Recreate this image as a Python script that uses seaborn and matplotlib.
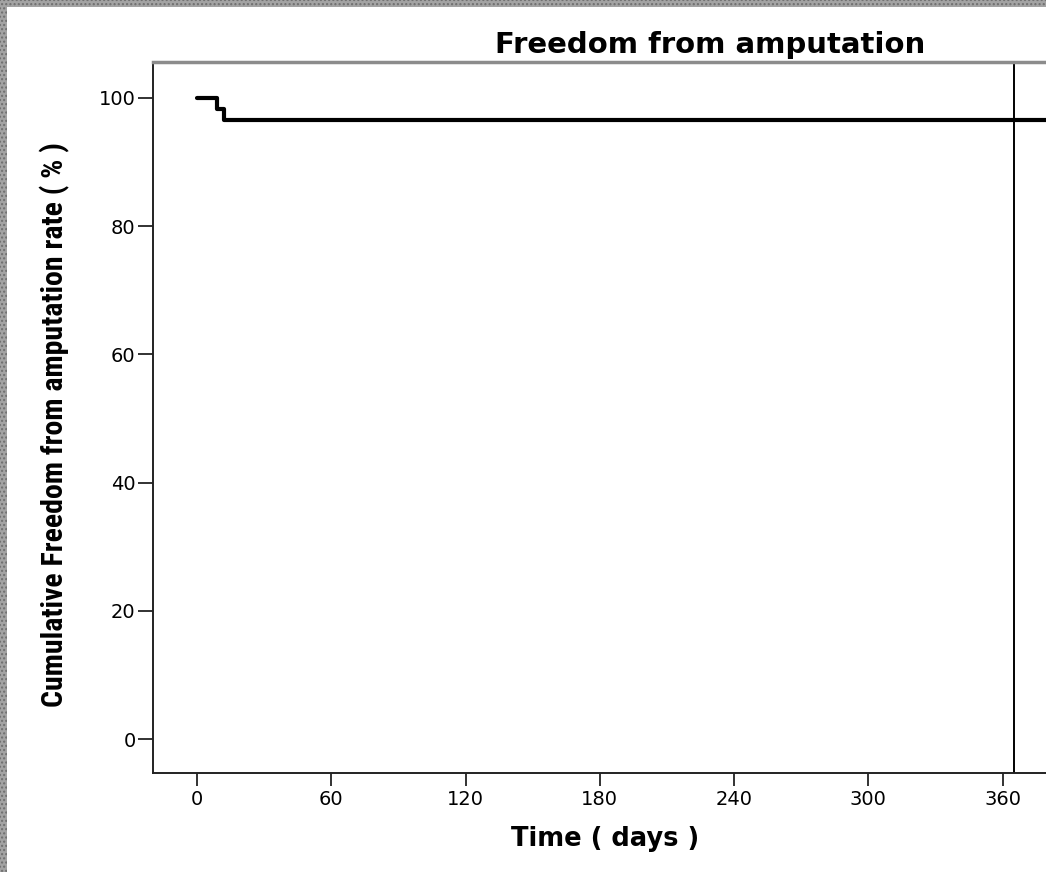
import matplotlib
matplotlib.use('Agg')
import numpy as np
import pandas as pd
import seaborn as sns
import matplotlib.pyplot as plt
from matplotlib import font_manager
from matplotlib.patches import Rectangle

# Kaplan-Meier step values
days = [0, 9, 12, 400]
freedom = [100, 98.3, 96.6, 96.6]
x_ticks = [0, 60, 120, 180, 240, 300, 360]
y_ticks = [0, 20, 40, 60, 80, 100]
cutoff_day = 365

df = pd.DataFrame({'days': days, 'freedom': freedom})

sns.set_style('ticks')
plt.rcParams['font.family'] = ['DejaVu Sans']
plt.rcParams['text.color'] = 'black'
plt.rcParams['axes.labelcolor'] = 'black'
plt.rcParams['xtick.color'] = 'black'
plt.rcParams['ytick.color'] = 'black'

# pick a narrow font for the y label if one is installed
installed = {f.name for f in font_manager.fontManager.ttflist}
narrow = 'DejaVu Sans'
for name in ['Liberation Sans Narrow', 'DejaVu Sans Condensed', 'Roboto Condensed']:
    if name in installed:
        narrow = name
        break

W, H = 1046, 872
fig = plt.figure(figsize=(W / 100, H / 100), dpi=100)
ax = fig.add_axes([153 / W, 1 - 773 / H, 1 - 153 / W, (773 - 62) / H])

sns.lineplot(data=df, x='days', y='freedom', ax=ax, color='black',
             linewidth=3, drawstyle='steps-post', estimator=None)
ax.axvline(cutoff_day, color='black', linewidth=1.4)

ax.set_xlim(-19.7, 379.4)
ax.set_ylim(-5.3, 105.6)
ax.set_xticks(x_ticks)
ax.set_yticks(y_ticks)
ax.tick_params(axis='both', direction='out', width=1.3,
               color='#222222', labelsize=14)
ax.tick_params(axis='x', length=9, pad=3)
ax.tick_params(axis='y', length=11, pad=1.5)

for side in ['left', 'bottom']:
    ax.spines[side].set_linewidth(1.4)
    ax.spines[side].set_color('#222222')
ax.spines['top'].set_linewidth(2.5)
ax.spines['top'].set_color('#8c8c8c')
ax.spines['right'].set_visible(False)

# the original chart was cropped on the right, so the title sits right of the axes centre
fig.text(710 / W, 1 - 53 / H, 'Freedom from amputation', fontsize=21,
         fontweight='bold', ha='center', va='baseline')

ax.set_xlabel('Time ( days )', fontsize=18.5, fontweight='bold')
ax.xaxis.set_label_coords((605 - 153) / 893, (773 - 826) / 711)
ax.set_ylabel('Cumulative Freedom from amputation rate ( % )', fontsize=21.5,
              fontweight='bold', family=narrow)
ax.yaxis.set_label_coords((70 - 153) / 893, 0.49)

# patterned grey frame on the left and top edges
fig.patches.append(Rectangle((0, 0), 7 / W, 1, transform=fig.transFigure,
                             facecolor='#a3a3a3', edgecolor='#6e6e6e',
                             hatch='....', linewidth=0, zorder=10))
fig.patches.append(Rectangle((0, 1 - 7 / H), 1, 7 / H, transform=fig.transFigure,
                             facecolor='#a3a3a3', edgecolor='#6e6e6e',
                             hatch='....', linewidth=0, zorder=10))

fig.savefig('out.png', dpi=100)
